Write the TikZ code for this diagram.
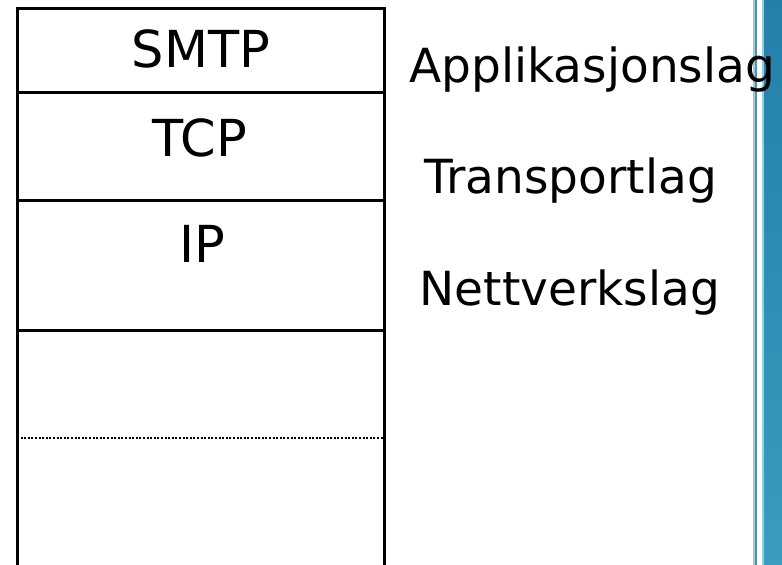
\documentclass[tikz,border=0pt]{standalone}
\usepackage{fontspec}
\setmainfont{DejaVu Sans}
\usepackage{tikz}

\definecolor{bandblue}{RGB}{36,128,170}
\definecolor{bandlight}{RGB}{58,156,192}
\definecolor{edgeblue}{RGB}{150,205,225}
\definecolor{edgegrey}{RGB}{95,140,160}

\begin{document}
\begin{tikzpicture}[x=1pt,y=-1pt,
    layername/.style={font=\fontsize{51}{60}\selectfont, anchor=base},
    layerlabel/.style={font=\fontsize{47}{56}\selectfont, anchor=base west}]
        \useasboundingbox (0,0) rectangle (782,565);
        % blue band at the right
        \fill[edgeblue] (752.5,0) rectangle (754.5,565);
        \fill[edgegrey] (754.5,0) rectangle (757,565);
        \fill[edgeblue] (761.5,0) rectangle (764,565);
        \shade[top color=bandblue, bottom color=bandlight] (764,0) rectangle (782,565);
        
        % protocol stack
        \draw[line width=3pt] (17,570) -- (17,8) -- (384,8) -- (384,570);
        \foreach \y in {92, 200, 330}
        \draw[line width=3pt] (17,\y) -- (384,\y);
        \draw[line width=1.6pt, dash pattern=on 2pt off 1.6pt] (17,438) -- (384,438);
        
        \node[layername] (smtp) at (201,67) {SMTP};
        \node[layername] (tcp) at (200,156) {TCP};
        \node[layername] (ip) at (202,262) {IP};
        
        \node[layerlabel] (app) at (406,82) {Applikasjonslag};
        \node[layerlabel] (trans) at (421,193) {Transportlag};
        \node[layerlabel] (nett) at (416,305) {Nettverkslag};
    \end{tikzpicture}
\end{document}
